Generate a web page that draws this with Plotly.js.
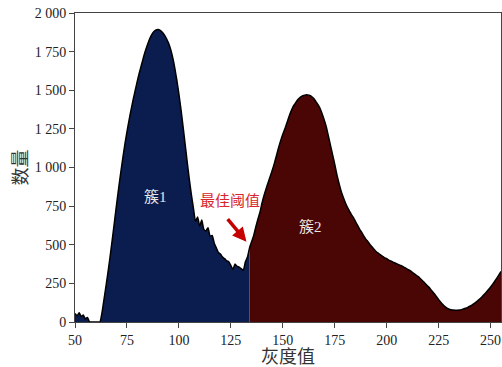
<!DOCTYPE html>
<html>
<head>
<meta charset="utf-8">
<script src="https://cdn.plot.ly/plotly-3.0.1.min.js"></script>
<style>html,body{margin:0;padding:0;background:#fff;}#chart{width:502px;height:367px;}</style>
</head>
<body>
<div id="chart"></div>
<script>
// Gray levels 50..255
const grayStart = 50;
const counts = [
  55, 40, 60, 35, 45, 20, 30, 0, 0, 0,          // 50-59
  0, 0, 0, 60, 150, 240, 335, 435, 540, 650,    // 60-69
  760, 865, 965, 1060, 1150, 1230, 1305, 1375, 1440, 1500, // 70-79
  1560, 1615, 1665, 1715, 1760, 1800, 1835, 1862, 1880, 1890, // 80-89
  1893, 1887, 1875, 1858, 1835, 1805, 1765, 1712, 1645, 1565, // 90-99
  1475, 1375, 1265, 1150, 1035, 925, 825, 735, 650, 680,      // 100-109
  620, 660, 600, 590, 610, 555, 560, 510, 480, 450,           // 110-119
  440, 420, 410, 395, 390, 365, 340, 375, 360, 355,           // 120-129
  345, 335, 390, 420, 480, 520, 560, 615, 665, 710,           // 130-139
  770, 820, 865, 905, 945, 985, 1030, 1080, 1130, 1175,       // 140-149
  1215, 1250, 1290, 1330, 1365, 1395, 1415, 1435, 1450, 1460, // 150-159
  1466, 1470, 1470, 1467, 1458, 1445, 1425, 1405, 1380, 1345, // 160-169
  1305, 1260, 1200, 1140, 1080, 1020, 955, 900, 850, 810,     // 170-179
  775, 745, 720, 695, 675, 650, 625, 600, 580, 555,           // 180-189
  535, 520, 500, 485, 470, 455, 445, 435, 425, 415,           // 190-199
  410, 400, 395, 388, 382, 376, 370, 364, 357, 350,           // 200-209
  342, 335, 325, 315, 305, 295, 283, 270, 257, 243,           // 210-219
  229, 214, 198, 181, 163, 145, 128, 113, 100, 90,            // 220-229
  83, 79, 77, 76, 76, 77, 80, 84, 89, 95,                     // 230-239
  102, 110, 119, 129, 140, 152, 165, 179, 194, 210,           // 240-249
  227, 245, 264, 284, 305, 327                                // 250-255
];
const threshold = 134;
const clusterLabels = ['簇1', '簇2'];
const thresholdLabel = '最佳阈值';
const yTickVals = [0, 250, 500, 750, 1000, 1250, 1500, 1750, 2000];
const yTickText = ['0', '250', '500', '750', '1 000', '1 250', '1 500', '1 750', '2 000'];
const xTickVals = [50, 75, 100, 125, 150, 175, 200, 225, 250];
const xTitle = '灰度值';
const yTitle = '数量';

const grayX = counts.map((_, i) => grayStart + i);
const x1 = [], y1 = [], x2 = [], y2 = [];
grayX.forEach((g, i) => {
  if (g <= threshold) { x1.push(g); y1.push(counts[i]); }
  if (g >= threshold) { x2.push(g); y2.push(counts[i]); }
});

const fontFam = '"Liberation Serif", "Times New Roman", "Noto Sans CJK SC", serif';
const sm = 0.5;

const traces = [
  {x: x1, y: y1, type: 'scatter', mode: 'lines', fill: 'tozeroy',
   fillcolor: '#0a1d4e', line: {width: 0, color: '#0a1d4e', shape: 'spline', smoothing: sm}, hoverinfo: 'skip'},
  {x: x2, y: y2, type: 'scatter', mode: 'lines', fill: 'tozeroy',
   fillcolor: '#4a0505', line: {width: 0, color: '#4a0505', shape: 'spline', smoothing: sm}, hoverinfo: 'skip'},
  {x: grayX, y: counts, type: 'scatter', mode: 'lines',
   line: {width: 1.5, color: '#000', shape: 'spline', smoothing: sm}, hoverinfo: 'skip'}
];

const layout = {
  width: 502, height: 367,
  margin: {l: 75, r: 1, t: 13, b: 45},
  paper_bgcolor: '#fff', plot_bgcolor: '#fff',
  showlegend: false,
  font: {family: fontFam, size: 14, color: '#222'},
  xaxis: {
    range: [50, 255], tickvals: xTickVals, ticks: 'outside', ticklen: 5,
    tickcolor: '#444', showline: true, linecolor: '#444', linewidth: 1, mirror: true,
    showgrid: false, zeroline: false,
    tickfont: {family: fontFam, size: 14, color: '#222'},
    title: {text: xTitle, font: {family: fontFam, size: 18, color: '#333'}, standoff: 4}
  },
  yaxis: {
    range: [0, 2000], tickvals: yTickVals, ticktext: yTickText, ticks: 'outside', ticklen: 5,
    tickcolor: '#444', showline: true, linecolor: '#444', linewidth: 1, mirror: true,
    showgrid: false, zeroline: false,
    tickfont: {family: fontFam, size: 14, color: '#222'},
    title: {text: yTitle, font: {family: fontFam, size: 18, color: '#333'}, standoff: 2}
  },
  annotations: [
    {x: 88.5, y: 815, text: clusterLabels[0], showarrow: false,
     font: {family: fontFam, size: 15, color: '#e6e6e6'}},
    {x: 163.5, y: 615, text: clusterLabels[1], showarrow: false,
     font: {family: fontFam, size: 15, color: '#e6e6e6'}},
    {x: 124.5, y: 785, text: thresholdLabel, showarrow: false,
     font: {family: fontFam, size: 15, color: '#d9262b'}},
    {x: 132.5, y: 520, text: '', showarrow: true, axref: 'pixel', ayref: 'pixel',
     ax: -20, ay: -24, arrowhead: 2, arrowsize: 0.8, arrowwidth: 3.5, arrowcolor: '#c40000'}
  ]
};

Plotly.newPlot('chart', traces, layout, {displayModeBar: false, staticPlot: true});
</script>
</body>
</html>
